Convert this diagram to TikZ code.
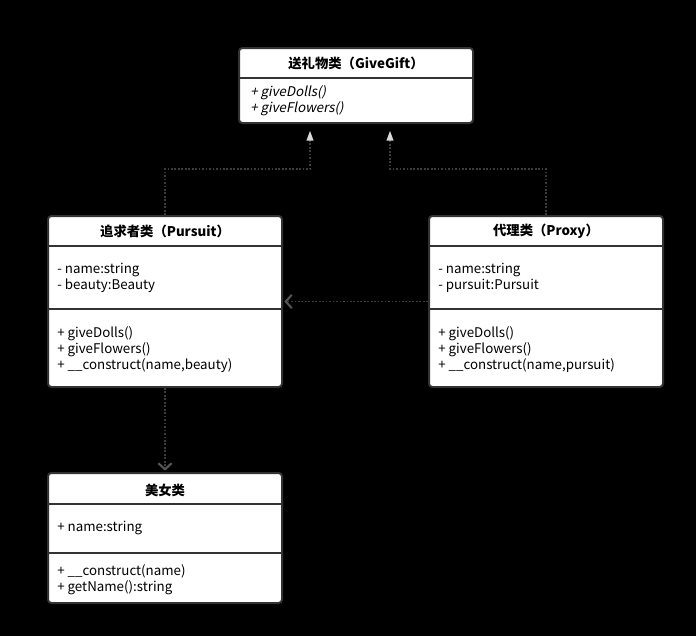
\documentclass[tikz,border=0pt]{standalone}
\usepackage{fontspec}
\setmainfont{Noto Sans CJK SC}[AutoFakeSlant=0.2]
\usetikzlibrary{arrows.meta}
\definecolor{linegray}{HTML}{3C3C3C}
\definecolor{boxborder}{HTML}{333333}
\definecolor{tipgray}{HTML}{D8D8D8}
\definecolor{barbgray}{HTML}{555555}
\newcommand{\px}{0.75pt}

\begin{document}
\begin{tikzpicture}[x=0.75pt, y=-0.75pt,
		classbox/.style={draw=boxborder, fill=white, line width=1.5pt, rounded corners=2.5pt,
			inner sep=0pt, minimum width=234*\px},
		sepline/.style={draw=boxborder, line width=1.5pt},
		titletext/.style={font=\bfseries\fontsize{10}{12}\selectfont, inner sep=0pt},
		membertext/.style={font=\fontsize{10}{12}\selectfont, align=left, anchor=west, inner sep=0pt},
		realize/.style={draw=linegray, line width=1.4pt, dash pattern=on 1.3pt off 1.3pt,
			-{Triangle[length=7.5pt, width=5pt, color=tipgray]}, shorten >=5pt},
		depend/.style={draw=linegray, line width=1.4pt, dash pattern=on 1.3pt off 1.3pt,
			-{Straight Barb[length=4.5pt, width=10pt, line width=1.6pt, color=barbgray]}, shorten >=1pt}]
	% Hintergrund
	\fill[black] (0,0) rectangle (696,636);
	% Klassen
	\node[classbox, minimum height=75*\px] (gift) at (356,85.5) {};
	\node[classbox, minimum height=171*\px] (pursuit) at (165,301.5) {};
	\node[classbox, minimum height=171*\px] (proxy) at (546,301.5) {};
	\node[classbox, minimum height=130*\px] (beauty) at (165,538) {};
	% Trennlinien
	\draw[sepline] (gift.west |- 0,78) -- (gift.east |- 0,78);
	\draw[sepline] (pursuit.west |- 0,246) -- (pursuit.east |- 0,246);
	\draw[sepline] (pursuit.west |- 0,309) -- (pursuit.east |- 0,309);
	\draw[sepline] (proxy.west |- 0,246) -- (proxy.east |- 0,246);
	\draw[sepline] (proxy.west |- 0,309) -- (proxy.east |- 0,309);
	\draw[sepline] (beauty.west |- 0,504) -- (beauty.east |- 0,504);
	\draw[sepline] (beauty.west |- 0,553) -- (beauty.east |- 0,553);
	% Texte
	\node[titletext] (giftname) at (gift.north |- 0,63) {\itshape 送礼物类（GiveGift）};
	\node[membertext] (giftops) at ([xshift=12*\px]gift.west |- 0,100.5) {\itshape + giveDolls()\\\itshape + giveFlowers()};
	\node[titletext] (pursuitname) at (pursuit.north |- 0,231) {追求者类（Pursuit）};
	\node[membertext] (pursuitattr) at ([xshift=10*\px]pursuit.west |- 0,278) {- name:string\\- beauty:Beauty};
	\node[membertext] (pursuitops) at ([xshift=10*\px]pursuit.west |- 0,350) {+ giveDolls()\\+ giveFlowers()\\+ \_\_construct(name,beauty)};
	\node[titletext] (proxyname) at (proxy.north |- 0,231) {代理类（Proxy）};
	\node[membertext] (proxyattr) at ([xshift=10*\px]proxy.west |- 0,278) {- name:string\\- pursuit:Pursuit};
	\node[membertext] (proxyops) at ([xshift=10*\px]proxy.west |- 0,350) {+ giveDolls()\\+ giveFlowers()\\+ \_\_construct(name,pursuit)};
	\node[titletext] (beautyname) at (beauty.north |- 0,490) {美女类};
	\node[membertext] (beautyattr) at ([xshift=10*\px]beauty.west |- 0,528) {+ name:string};
	\node[membertext] (beautyops) at ([xshift=10*\px]beauty.west |- 0,580) {+ \_\_construct(name)\\+ getName():string};
	% Verbindungen
	\draw[realize] (pursuit.north) -- ++(0,-46) -| ([xshift=-46*\px]gift.south);
	\draw[realize] (proxy.north) -- ++(0,-46) -| ([xshift=34*\px]gift.south);
	\draw[depend] (proxy.west) -- (pursuit.east);
	\draw[depend] (pursuit.south) -- (beauty.north);
\end{tikzpicture}
\end{document}
